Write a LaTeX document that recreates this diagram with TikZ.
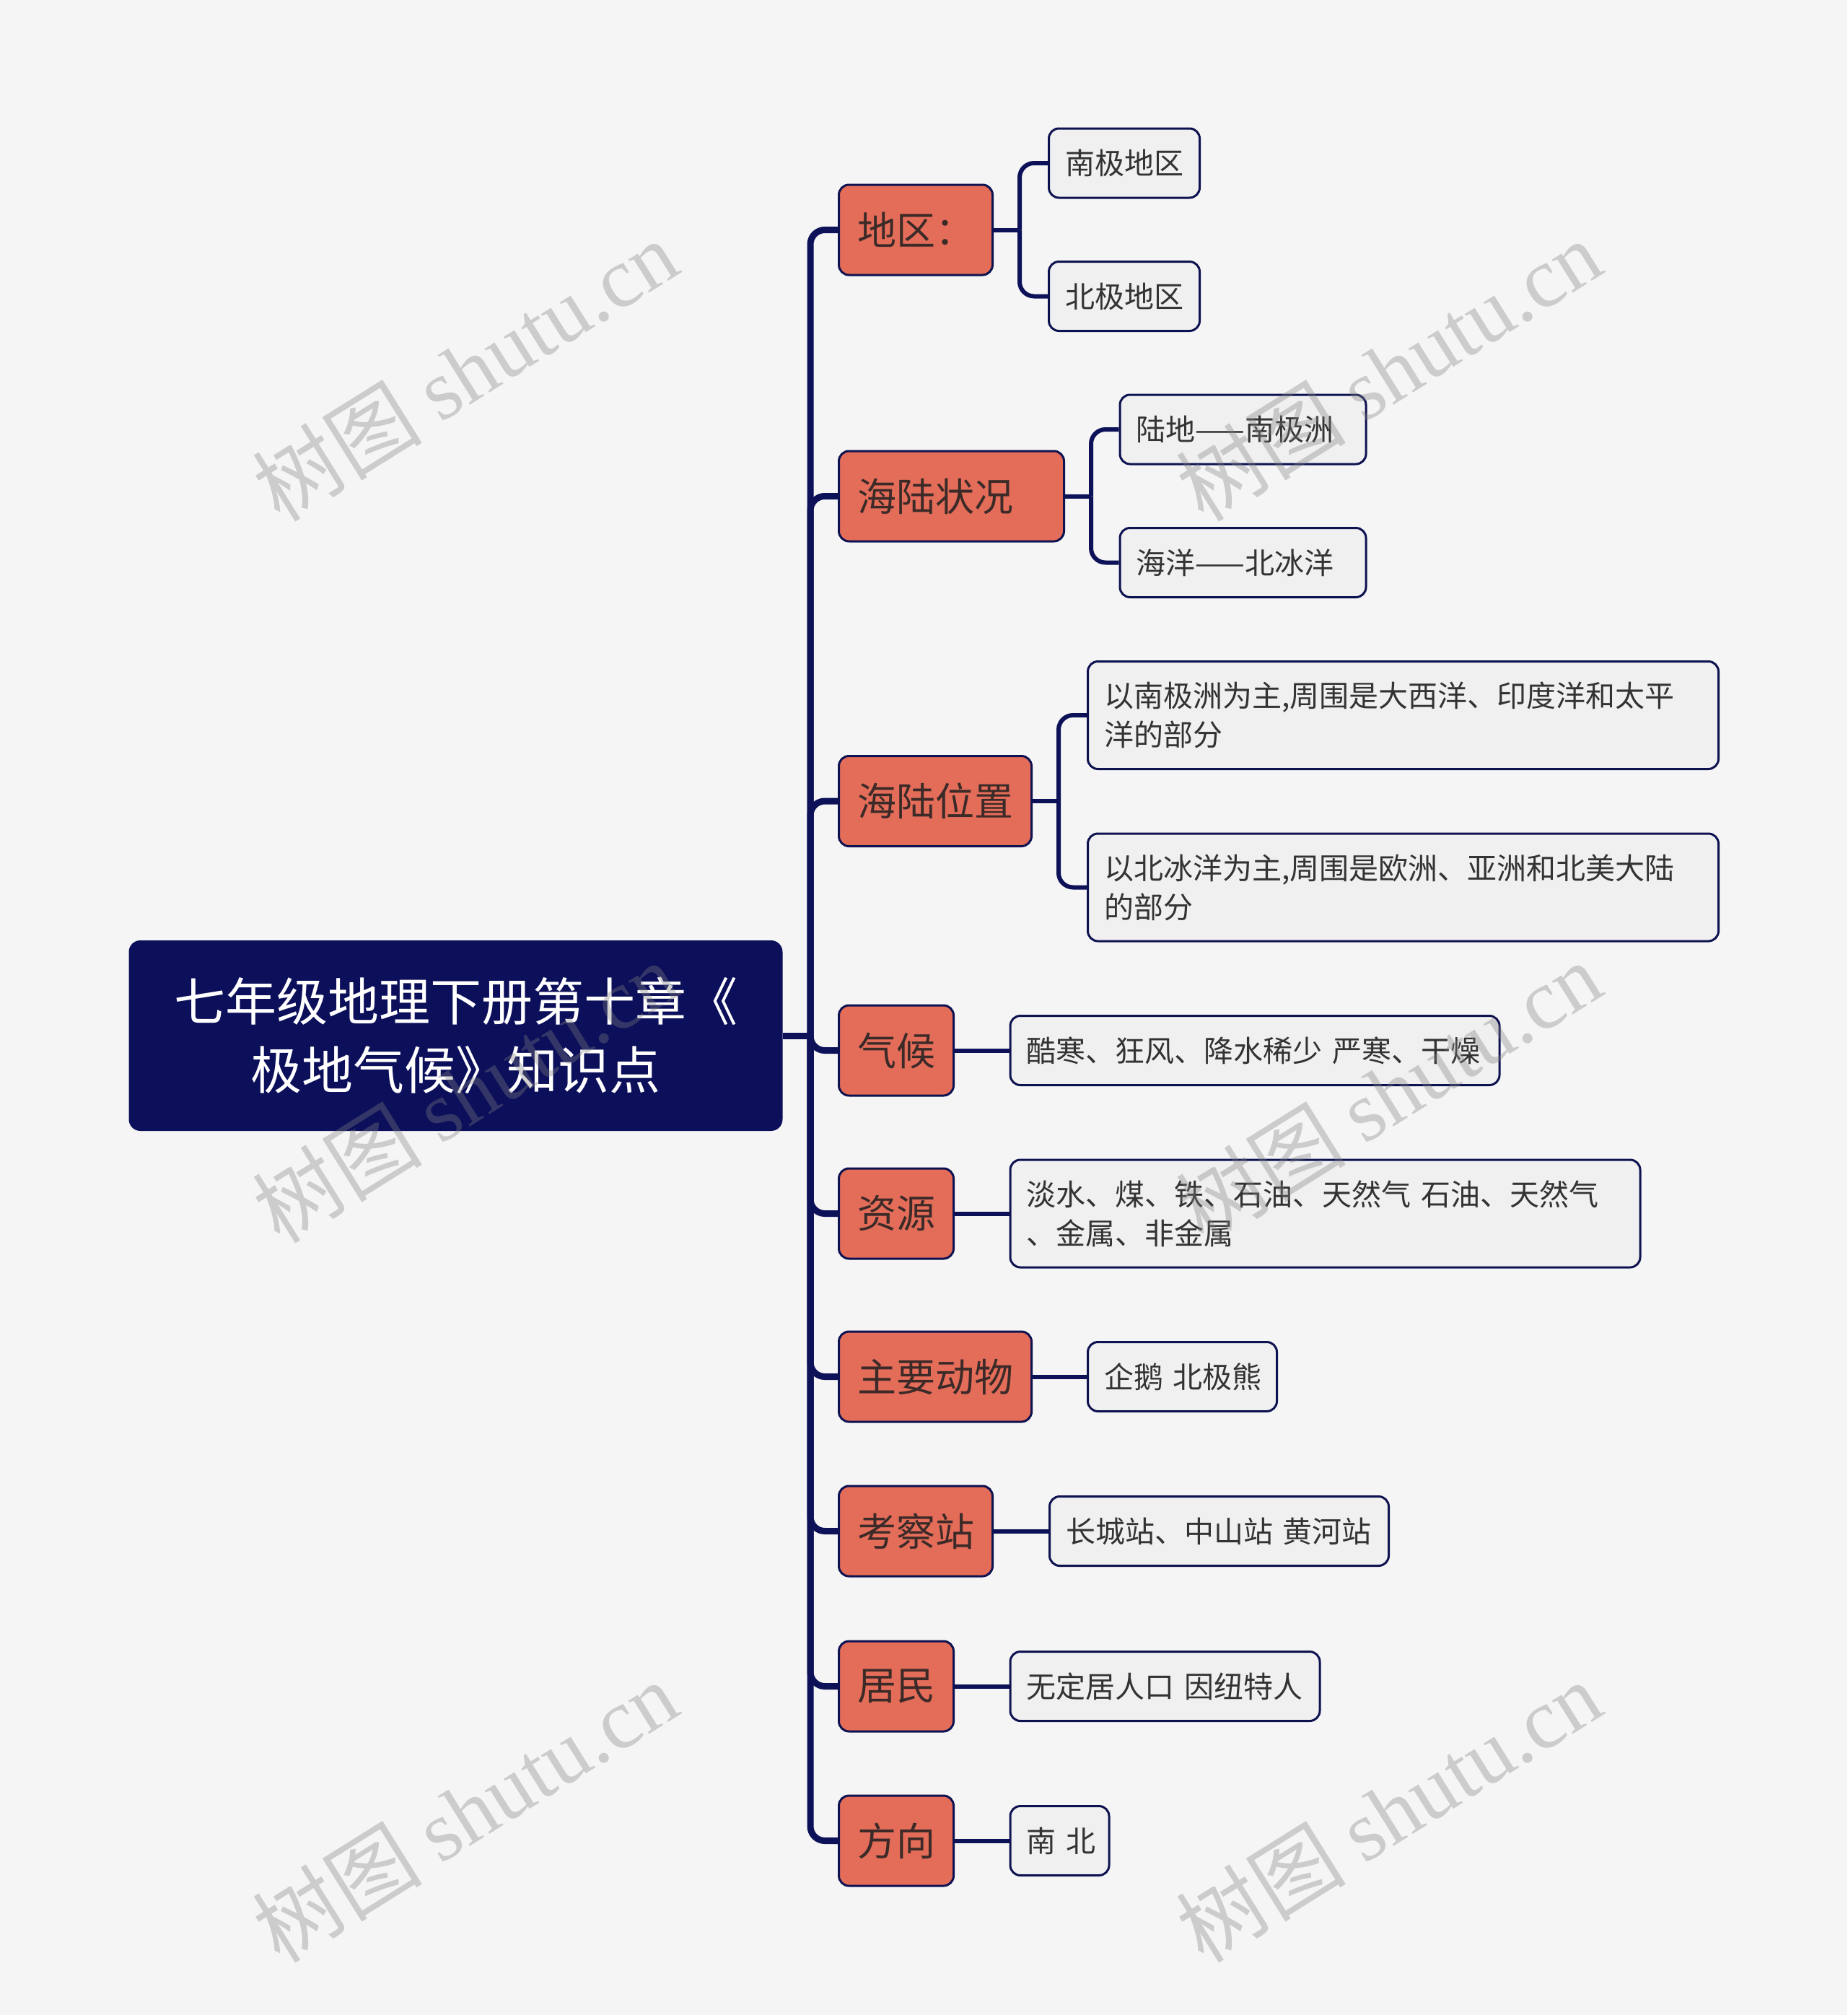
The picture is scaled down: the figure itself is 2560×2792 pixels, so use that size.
\documentclass[tikz,border=0pt]{standalone}
\usepackage{fontspec}
\setmainfont{Noto Sans CJK SC}
\newfontfamily\wmfont{Liberation Serif}
\definecolor{bgc}{HTML}{F5F5F5}
\definecolor{rootc}{HTML}{0C0F5A}
\definecolor{navyc}{HTML}{0D1158}
\definecolor{borderc}{HTML}{0E1250}
\definecolor{orc}{HTML}{E46D59}
\definecolor{lvtext}{HTML}{3B2A28}
\definecolor{boxc}{HTML}{F0F0F0}
\definecolor{txtc}{HTML}{333333}
\tikzset{
  rootbox/.style={fill=rootc, rounded corners=16pt, text=white, font=\fontsize{71}{95}\selectfont,
    align=center, minimum width=906pt, minimum height=264pt, inner sep=0pt},
  lvone/.style={fill=orc, draw=borderc, line width=3pt, rounded corners=14pt, anchor=west,
    minimum height=125pt, inner xsep=25.5pt, inner ysep=0pt, align=left, text=lvtext,
    font=\fontsize{54}{64}\selectfont},
  lvtwo/.style={fill=boxc, draw=borderc, line width=3pt, rounded corners=14pt, anchor=west,
    minimum height=96pt, inner xsep=22.5pt, inner ysep=0pt, align=left, text=txtc,
    font=\fontsize{41}{54}\selectfont},
  trunkline/.style={draw=navyc, line width=9pt},
  twigline/.style={draw=navyc, line width=6pt},
  wmark/.style={rotate=32, text=gray, text opacity=0.35, font=\fontsize{118}{118}\selectfont, inner sep=0pt}
}
\begin{document}
\begin{tikzpicture}[x=1pt,y=-1pt]
\fill[bgc] (0,0) rectangle (2560,2792);

% root
\node[rootbox] (root) at (631.5,1435) {七年级地理下册第十章《\\极地气候》知识点};

% level 1
\node[lvone, text width=162pt] (a1) at (1161,318.5) {地区：};
\node[lvone, text width=261pt] (a2) at (1161,687.5) {海陆状况};
\node[lvone, text width=216pt] (a3) at (1161,1110) {海陆位置};
\node[lvone, text width=108pt] (a4) at (1161,1455.5) {气候};
\node[lvone, text width=108pt] (a5) at (1161,1681.5) {资源};
\node[lvone, text width=216pt] (a6) at (1161,1907.5) {主要动物};
\node[lvone, text width=162pt] (a7) at (1161,2121.5) {考察站};
\node[lvone, text width=108pt] (a8) at (1161,2336.5) {居民};
\node[lvone, text width=108pt] (a9) at (1161,2550.5) {方向};

% level 2
\node[lvtwo, text width=164pt] (b1) at (1452,226) {南极地区};
\node[lvtwo, text width=164pt] (b2) at (1452,410.5) {北极地区};
\node[lvtwo, text width=296pt] (b3) at (1550.5,595) {陆地——南极洲};
\node[lvtwo, text width=296pt] (b4) at (1550.5,779.5) {海洋——北冰洋};
\node[lvtwo, text width=829pt, minimum height=149pt] (b5) at (1506,991) {以南极洲为主,周围是大西洋、印度洋和太平\\洋的部分};
\node[lvtwo, text width=829pt, minimum height=149pt] (b6) at (1506,1229.5) {以北冰洋为主,周围是欧洲、亚洲和北美大陆\\的部分};
\node[lvtwo, text width=633pt] (b7) at (1398.5,1455.5) {酷寒、狂风、降水稀少~严寒、干燥};
\node[lvtwo, text width=828pt, minimum height=149pt] (b8) at (1398.5,1681.5) {淡水、煤、铁、石油、天然气~石油、天然气\\、金属、非金属};
\node[lvtwo, text width=217pt] (b9) at (1506,1907.5) {企鹅~北极熊};
\node[lvtwo, text width=425pt] (b10) at (1453,2121.5) {长城站、中山站~黄河站};
\node[lvtwo, text width=384pt] (b11) at (1398.5,2336.5) {无定居人口~因纽特人};
\node[lvtwo, text width=92pt] (b12) at (1398.5,2550.5) {南~北};

% trunk
\coordinate (tj) at (1123,1435);
\draw[trunkline] (root.east) -- (tj);
\foreach \n in {a1,a2,a3,a4,a5,a6,a7,a8,a9}
  \draw[trunkline, rounded corners=20pt] (tj) |- (\n.west);

% twigs
\coordinate (s1) at (1413,318.5);
\coordinate (s2) at (1512,687.5);
\coordinate (s3) at (1467,1110);
\draw[twigline] (a1.east) -- (s1);
\draw[twigline, rounded corners=20pt] (s1) |- (b1.west);
\draw[twigline, rounded corners=20pt] (s1) |- (b2.west);
\draw[twigline] (a2.east) -- (s2);
\draw[twigline, rounded corners=20pt] (s2) |- (b3.west);
\draw[twigline, rounded corners=20pt] (s2) |- (b4.west);
\draw[twigline] (a3.east) -- (s3);
\draw[twigline, rounded corners=20pt] (s3) |- (b5.west);
\draw[twigline, rounded corners=20pt] (s3) |- (b6.west);
\draw[twigline] (a4.east) -- (b7.west);
\draw[twigline] (a5.east) -- (b8.west);
\draw[twigline] (a6.east) -- (b9.west);
\draw[twigline] (a7.east) -- (b10.west);
\draw[twigline] (a8.east) -- (b11.west);
\draw[twigline] (a9.east) -- (b12.west);

% watermarks
\node[wmark] (w1) at (644,513) {树图 {\wmfont shutu.cn}};
\node[wmark] (w2) at (1924,513) {树图 {\wmfont shutu.cn}};
\node[wmark] (w3) at (644,1513) {树图 {\wmfont shutu.cn}};
\node[wmark] (w4) at (1924,1513) {树图 {\wmfont shutu.cn}};
\node[wmark] (w5) at (644,2510) {树图 {\wmfont shutu.cn}};
\node[wmark] (w6) at (1924,2510) {树图 {\wmfont shutu.cn}};
\end{tikzpicture}
\end{document}
